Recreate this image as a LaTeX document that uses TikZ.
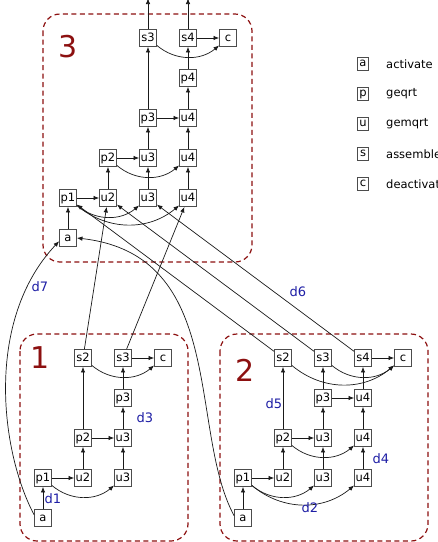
\documentclass[tikz,border=0pt]{standalone}
\usepackage{fontspec}
\setmainfont{DejaVu Sans}
\usetikzlibrary{arrows.meta}
\definecolor{grpred}{RGB}{140,16,16}
\definecolor{lblblue}{RGB}{30,30,165}
\begin{document}
\begin{tikzpicture}[x=1pt,y=1pt,
  tk/.style={draw=black!70, line width=0.9pt, fill=white, minimum size=17pt, inner sep=0.5pt,
    font=\fontsize{11.5}{13}\selectfont, text height=8.4pt, text depth=2.3pt},
  lg/.style={tk, line width=0.8pt, minimum size=0pt, minimum width=11.5pt, minimum height=12.5pt, inner sep=0.8pt,
    text height=7.8pt, text depth=2.6pt},
  e/.style={-{Latex[length=5.5pt,width=4.5pt]}, line width=0.7pt, draw=black!90},
  grp/.style={draw=grpred, line width=1.2pt, dash pattern=on 5pt off 3.5pt, rounded corners=17pt},
  num/.style={text=grpred, font=\fontsize{30}{30}\selectfont, inner sep=0pt},
  dl/.style={text=lblblue, font=\fontsize{13}{13}\selectfont, inner sep=0pt},
  lt/.style={anchor=west, font=\fontsize{11.5}{13}\selectfont, inner sep=0pt}
]
\useasboundingbox (0,0) rectangle (438,-542);

% group boxes
\draw[grp] (43,-14) rectangle (252,-262);
\draw[grp] (20,-334) rectangle (188,-541);
\draw[grp] (220,-334) rectangle (428,-541);
\node[num] (n3) at (68,-47) {3};
\node[num] (n1) at (40,-358) {1};
\node[num] (n2) at (245,-370) {2};

% tree 3
\node[tk] (Ca)  at (68,-238) {a};
\node[tk] (Cp1) at (68,-198) {p1};
\node[tk] (Cu2) at (108,-198) {u2};
\node[tk] (Cu3a) at (148,-198) {u3};
\node[tk] (Cu4a) at (188,-198) {u4};
\node[tk] (Cp2) at (108,-158) {p2};
\node[tk] (Cu3b) at (148,-158) {u3};
\node[tk] (Cu4b) at (188,-158) {u4};
\node[tk] (Cp3) at (148,-118) {p3};
\node[tk] (Cu4c) at (188,-118) {u4};
\node[tk] (Cp4) at (188,-78) {p4};
\node[tk] (Cs3) at (148,-38) {s3};
\node[tk] (Cs4) at (188,-38) {s4};
\node[tk] (Cc)  at (228,-38) {c};
\coordinate (Ct3) at (148,1.5);
\coordinate (Ct4) at (188,1.5);

% tree 1
\node[tk] (Aa)  at (43,-518) {a};
\node[tk] (Ap1) at (43,-478) {p1};
\node[tk] (Au2) at (83,-478) {u2};
\node[tk] (Au3a) at (123,-478) {u3};
\node[tk] (Ap2) at (83,-438) {p2};
\node[tk] (Au3b) at (123,-438) {u3};
\node[tk] (Ap3) at (123,-398) {p3};
\node[tk] (As2) at (83,-358) {s2};
\node[tk] (As3) at (123,-358) {s3};
\node[tk] (Ac)  at (163,-358) {c};

% tree 2
\node[tk] (Ba)  at (243,-518) {a};
\node[tk] (Bp1) at (243,-478) {p1};
\node[tk] (Bu2) at (283,-478) {u2};
\node[tk] (Bu3a) at (323,-478) {u3};
\node[tk] (Bu4a) at (363,-478) {u4};
\node[tk] (Bp2) at (283,-438) {p2};
\node[tk] (Bu3b) at (323,-438) {u3};
\node[tk] (Bu4b) at (363,-438) {u4};
\node[tk] (Bp3) at (323,-398) {p3};
\node[tk] (Bu4c) at (363,-398) {u4};
\node[tk] (Bs2) at (283,-358) {s2};
\node[tk] (Bs3) at (323,-358) {s3};
\node[tk] (Bs4) at (363,-358) {s4};
\node[tk] (Bc)  at (403,-358) {c};

% legend
\node[lg] (La) at (363,-64) {a};  \node[lt] (Lta) at (386,-64) {activate};
\node[lg] (Lp) at (363,-94) {p};  \node[lt] (Ltp) at (386,-94) {geqrt};
\node[lg] (Lu) at (363,-124) {u}; \node[lt] (Ltu) at (386,-124) {gemqrt};
\node[lg] (Ls) at (363,-154) {s}; \node[lt] (Lts) at (386,-154) {assemble};
\node[lg] (Lc) at (363,-184) {c}; \node[lt] (Ltc) at (386,-184) {deactivate};

% edges tree 3
\draw[e] (Ca) -- (Cp1);
\draw[e] (Cp1) -- (Cu2);
\draw[e] (Cp1) to[bend right=40] (Cu3a);
\draw[e] (Cp1) to[bend right=40] (Cu4a);
\draw[e] (Cu2) -- (Cp2);
\draw[e] (Cu3a) -- (Cu3b);
\draw[e] (Cu4a) -- (Cu4b);
\draw[e] (Cp2) -- (Cu3b);
\draw[e] (Cp2) to[bend right=40] (Cu4b);
\draw[e] (Cu3b) -- (Cp3);
\draw[e] (Cu4b) -- (Cu4c);
\draw[e] (Cp3) -- (Cu4c);
\draw[e] (Cu4c) -- (Cp4);
\draw[e] (Cp4) -- (Cs4);
\draw[e] (Cp3) -- (Cs3);
\draw[e] (Cs3) to[bend right=40] (Cc);
\draw[e] (Cs4) -- (Cc);
\draw[e] (Cs3) -- (Ct3);
\draw[e] (Cs4) -- (Ct4);

% edges tree 1
\draw[e] (Aa) -- (Ap1);
\draw[e] (Ap1) -- (Au2);
\draw[e] (Ap1) to[bend right=40] (Au3a);
\draw[e] (Au2) -- (Ap2);
\draw[e] (Au3a) -- (Au3b);
\draw[e] (Ap2) -- (Au3b);
\draw[e] (Au3b) -- (Ap3);
\draw[e] (Ap3) -- (As3);
\draw[e] (Ap2) -- (As2);
\draw[e] (As2) to[bend right=40] (Ac);
\draw[e] (As3) -- (Ac);

% edges tree 2
\draw[e] (Ba) -- (Bp1);
\draw[e] (Bp1) -- (Bu2);
\draw[e] (Bp1) to[bend right=40] (Bu3a);
\draw[e] (Bp1) to[bend right=40] (Bu4a);
\draw[e] (Bu2) -- (Bp2);
\draw[e] (Bu3a) -- (Bu3b);
\draw[e] (Bu4a) -- (Bu4b);
\draw[e] (Bp2) -- (Bu3b);
\draw[e] (Bp2) to[bend right=40] (Bu4b);
\draw[e] (Bu3b) -- (Bp3);
\draw[e] (Bu4b) -- (Bu4c);
\draw[e] (Bp3) -- (Bu4c);
\draw[e] (Bu4c) -- (Bs4);
\draw[e] (Bp3) -- (Bs3);
\draw[e] (Bp2) -- (Bs2);
\draw[e] (Bs2) to[bend right=40] (Bc);
\draw[e] (Bs3) to[bend right=40] (Bc);
\draw[e] (Bs4) -- (Bc);

% cross edges
\draw[e] (As2) -- (Cu2);
\draw[e] (As3) -- (Cu4a);
\draw[e] (Bs2) -- (Cp1);
\draw[e] (Bs3) -- (Cu2);
\draw[e] (Bs4) -- (Cu3a);
\draw[e] (Aa.160) .. controls (0,-450) and (-15,-320) .. (Ca.200);
\draw[e] (Ba.165) .. controls (188,-430) and (228,-255) .. (Ca.east);

% labels
\node[dl] (d1) at (53,-499) {d1};
\node[dl] (d2) at (310,-508) {d2};
\node[dl] (d3) at (145,-418) {d3};
\node[dl] (d4) at (381,-459) {d4};
\node[dl] (d5) at (274,-404) {d5};
\node[dl] (d6) at (298,-292) {d6};
\node[dl] (d7) at (40,-287) {d7};
\end{tikzpicture}
\end{document}
